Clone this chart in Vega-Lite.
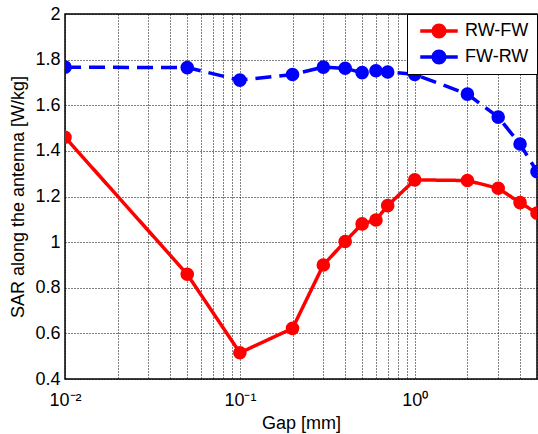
{
  "$schema": "https://vega.github.io/schema/vega-lite/v6.json",
  "width": 472,
  "height": 365,
  "autosize": "none",
  "padding": {"left": 65, "top": 14, "right": 1, "bottom": 55},
  "background": "white",
  "config": {
    "font": "Liberation Sans",
    "view": {"stroke": "black", "strokeWidth": 1.5},
    "axis": {
      "labelFont": "Liberation Sans",
      "titleFont": "Liberation Sans",
      "labelFontSize": 18,
      "titleFontSize": 18,
      "titleFontWeight": "normal",
      "labelColor": "black",
      "titleColor": "black",
      "domain": false,
      "ticks": false,
      "gridColor": "black",
      "gridDash": [1, 2],
      "gridOpacity": 1,
      "gridWidth": 1
    }
  },
  "data": {
    "values": [
      {"gap": 0.01, "sar": 1.46, "series": "RW-FW"},
      {"gap": 0.05, "sar": 0.859, "series": "RW-FW"},
      {"gap": 0.1, "sar": 0.515, "series": "RW-FW"},
      {"gap": 0.2, "sar": 0.622, "series": "RW-FW"},
      {"gap": 0.3, "sar": 0.9, "series": "RW-FW"},
      {"gap": 0.4, "sar": 1.003, "series": "RW-FW"},
      {"gap": 0.5, "sar": 1.08, "series": "RW-FW"},
      {"gap": 0.6, "sar": 1.097, "series": "RW-FW"},
      {"gap": 0.7, "sar": 1.16, "series": "RW-FW"},
      {"gap": 1, "sar": 1.273, "series": "RW-FW"},
      {"gap": 2, "sar": 1.27, "series": "RW-FW"},
      {"gap": 3, "sar": 1.236, "series": "RW-FW"},
      {"gap": 4, "sar": 1.173, "series": "RW-FW"},
      {"gap": 5, "sar": 1.127, "series": "RW-FW"},
      {"gap": 0.01, "sar": 1.767, "series": "FW-RW"},
      {"gap": 0.05, "sar": 1.765, "series": "FW-RW"},
      {"gap": 0.1, "sar": 1.71, "series": "FW-RW"},
      {"gap": 0.2, "sar": 1.735, "series": "FW-RW"},
      {"gap": 0.3, "sar": 1.767, "series": "FW-RW"},
      {"gap": 0.4, "sar": 1.762, "series": "FW-RW"},
      {"gap": 0.5, "sar": 1.743, "series": "FW-RW"},
      {"gap": 0.6, "sar": 1.751, "series": "FW-RW"},
      {"gap": 0.7, "sar": 1.746, "series": "FW-RW"},
      {"gap": 1, "sar": 1.735, "series": "FW-RW"},
      {"gap": 2, "sar": 1.649, "series": "FW-RW"},
      {"gap": 3, "sar": 1.548, "series": "FW-RW"},
      {"gap": 4, "sar": 1.43, "series": "FW-RW"},
      {"gap": 5, "sar": 1.309, "series": "FW-RW"}
    ]
  },
  "encoding": {
    "x": {
      "field": "gap",
      "type": "quantitative",
      "scale": {"type": "log", "domain": [0.01, 5], "nice": false},
      "axis": {
        "title": "Gap [mm]",
        "values": [0.01, 0.02, 0.03, 0.04, 0.05, 0.06, 0.07, 0.08, 0.09, 0.1, 0.2, 0.3, 0.4, 0.5, 0.6, 0.7, 0.8, 0.9, 1, 2, 3, 4, 5],
        "labelExpr": "datum.value == 0.01 ? '10⁻²' : datum.value == 0.1 ? '10⁻¹' : datum.value == 1 ? '10⁰' : ''",
        "labelPadding": 12,
        "titlePadding": 5,
        "labelFlush": false,
        "labelOverlap": false
      }
    },
    "y": {
      "field": "sar",
      "type": "quantitative",
      "scale": {"domain": [0.4, 2], "nice": false, "zero": false},
      "axis": {
        "title": "SAR along the antenna [W/kg]",
        "values": [0.4, 0.6, 0.8, 1, 1.2, 1.4, 1.6, 1.8, 2],
        "format": "~g",
        "labelPadding": 5,
        "titlePadding": 7,
        "labelFlush": false
      }
    }
  },
  "layer": [
    {
      "mark": {"type": "line", "strokeWidth": 3.5, "clip": true},
      "encoding": {
        "color": {
          "field": "series",
          "type": "nominal",
          "scale": {"domain": ["RW-FW", "FW-RW"], "range": ["#ff0000", "#0000ff"]}
        },
        "strokeDash": {
          "field": "series",
          "type": "nominal",
          "scale": {"domain": ["RW-FW", "FW-RW"], "range": [[1, 0], [16, 8]]},
          "legend": null
        }
      }
    },
    {
      "mark": {"type": "point", "filled": true, "opacity": 1, "size": 185, "clip": true},
      "encoding": {
        "color": {
          "field": "series",
          "type": "nominal",
          "scale": {"domain": ["RW-FW", "FW-RW"], "range": ["#ff0000", "#0000ff"]},
          "legend": {
            "title": null,
            "orient": "top-right",
            "offset": 0,
            "padding": 8,
            "strokeColor": "black",
            "fillColor": "white",
            "symbolType": "M-2.5,-0.23 L-0.97,-0.23 L-0.97,0.23 L-2.5,0.23 Z M0.97,-0.23 L2.5,-0.23 L2.5,0.23 L0.97,0.23 Z M-1,0 A1,1 0 1,1 1,0 A1,1 0 1,1 -1,0 Z",
            "symbolSize": 225,
            "symbolStrokeWidth": 0,
            "symbolOpacity": 1,
            "symbolOffset": 15,
            "labelOffset": 17,
            "labelFont": "Liberation Sans",
            "labelFontSize": 18,
            "labelColor": "black",
            "rowPadding": 8
          }
        }
      }
    }
  ]
}
